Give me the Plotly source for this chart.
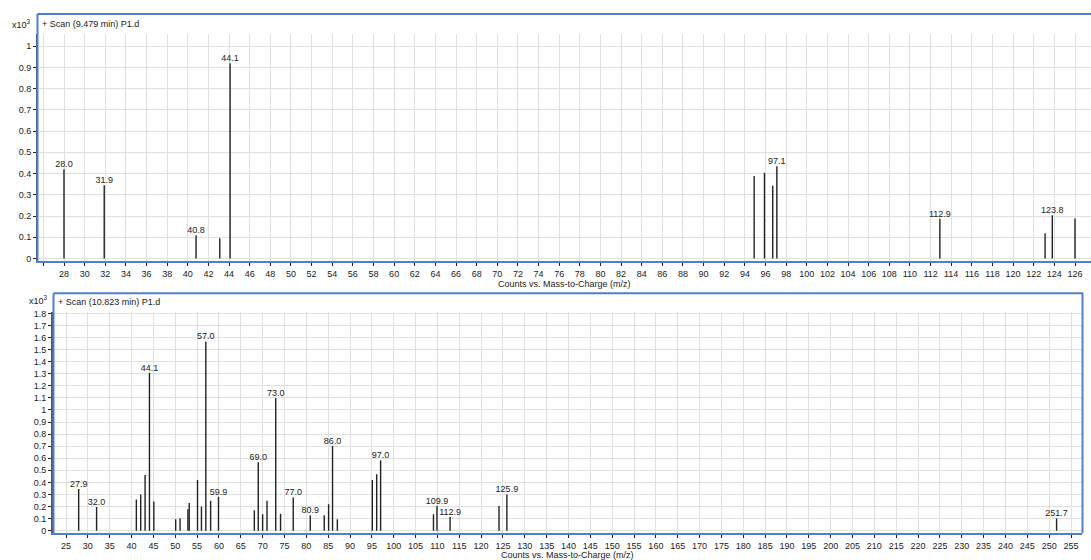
import plotly.graph_objects as go

# ---------------- data (counts in x10^3) ----------------
mz_top = [28.0, 31.9, 40.8, 43.1, 44.1, 94.9, 95.9, 96.7, 97.1, 112.9, 123.1, 123.8, 126.0]
int_top = [0.42, 0.345, 0.11, 0.095, 0.92, 0.389, 0.404, 0.343, 0.435, 0.187, 0.119, 0.204, 0.188]
lab_top_mz = [28.0, 31.9, 40.8, 44.1, 97.1, 112.9, 123.8]
lab_top_int = [0.42, 0.345, 0.11, 0.92, 0.435, 0.187, 0.204]

mz_bot = [27.9, 32.0, 41.1, 42.1, 43.1, 44.1, 45.1, 50.1, 51.1, 52.9, 53.2, 55.1, 56.0, 57.0,
          58.1, 59.9, 68.1, 69.0, 70.0, 71.0, 73.0, 74.1, 77.0, 80.9, 84.1, 85.1, 86.0, 87.1,
          95.1, 96.1, 97.0, 109.1, 109.9, 112.9, 124.1, 125.9, 251.7]
int_bot = [0.346, 0.195, 0.258, 0.30, 0.46, 1.308, 0.242, 0.095, 0.103, 0.177, 0.23, 0.42, 0.20, 1.567,
           0.248, 0.28, 0.168, 0.567, 0.136, 0.248, 1.10, 0.14, 0.275, 0.128, 0.128, 0.218, 0.703, 0.095,
           0.42, 0.468, 0.583, 0.136, 0.205, 0.114, 0.204, 0.30, 0.10]
lab_bot_mz = [27.9, 32.0, 44.1, 57.0, 59.9, 69.0, 73.0, 77.0, 80.9, 86.0, 97.0, 109.9, 112.9, 125.9, 251.7]
lab_bot_int = [0.346, 0.195, 1.308, 1.567, 0.28, 0.567, 1.10, 0.275, 0.128, 0.703, 0.583, 0.205, 0.114, 0.30, 0.10]

top_ticks = list(range(28, 127, 2))
bot_ticks = list(range(25, 256, 5))
top_yticks = [round(i * 0.1, 1) for i in range(0, 11)]
bot_yticks = [round(i * 0.1, 1) for i in range(0, 19)]

W, H = 1091, 560
px = lambda v: v / W
py = lambda v: 1 - v / H

def stems(xs, ys):
    sx, sy = [], []
    for a, b in zip(xs, ys):
        sx += [a, a, None]
        sy += [0, b, None]
    return sx, sy

def ytext(v):
    s = ("%.1f" % v)
    if s.endswith(".0"):
        s = s[:-2]
    return s

FONT = "Liberation Sans, Arial, sans-serif"
BLUE = "#4f7fd0"
GRID = "#e0e0e0"
INK = "#222222"

fig = go.Figure()

tx, ty = stems(mz_top, int_top)
fig.add_trace(go.Scatter(x=tx, y=ty, mode="lines", line=dict(color=INK, width=1.4),
                         xaxis="x", yaxis="y", hoverinfo="skip", showlegend=False))
fig.add_trace(go.Scatter(x=lab_top_mz, y=lab_top_int, mode="text", text=["%.1f" % v for v in lab_top_mz],
                         textposition="top center", textfont=dict(family=FONT, size=9, color=INK),
                         xaxis="x", yaxis="y", hoverinfo="skip", showlegend=False))

bx, by = stems(mz_bot, int_bot)
fig.add_trace(go.Scatter(x=bx, y=by, mode="lines", line=dict(color=INK, width=1.4),
                         xaxis="x2", yaxis="y2", hoverinfo="skip", showlegend=False))
fig.add_trace(go.Scatter(x=lab_bot_mz, y=lab_bot_int, mode="text", text=["%.1f" % v for v in lab_bot_mz],
                         textposition="top center", textfont=dict(family=FONT, size=9, color=INK),
                         xaxis="x2", yaxis="y2", hoverinfo="skip", showlegend=False))

axfont = dict(family=FONT, size=9, color=INK)

# pixel calibration: 28 -> 64px, 126 -> 1075px (top); 25 -> 66px, 255 -> 1071px (bottom)
top_ppu = (1075 - 64) / 98.0
bot_ppu = (1071 - 66) / 230.0
top_yppu = 215.0
bot_yppu = 122.2

fig.update_layout(
    width=W, height=H, margin=dict(l=0, r=0, t=0, b=0),
    paper_bgcolor="white", plot_bgcolor="white",
    font=dict(family=FONT, size=9, color=INK),
    xaxis=dict(domain=[px(38), 1.0],
               range=[28 + (38 - 64) / top_ppu, 28 + (1091 - 64) / top_ppu],
               tickvals=top_ticks,
               minor=dict(tickvals=[26], ticks="outside", ticklen=3, tickcolor=INK,
                          showgrid=True, gridcolor=GRID, gridwidth=1),
               showgrid=True, gridcolor=GRID, gridwidth=1, zeroline=False,
               showline=True, linecolor=BLUE, linewidth=2, ticks="outside", ticklen=3,
               tickcolor=INK, tickfont=axfont, anchor="y"),
    yaxis=dict(domain=[py(260), py(30)],
               range=[(257.7 - 260) / top_yppu, (257.7 - 30) / top_yppu],
               tickvals=top_yticks, ticktext=[ytext(v) for v in top_yticks],
               showgrid=True, gridcolor=GRID, gridwidth=1, zeroline=False,
               showline=True, linecolor="#555555", linewidth=2, ticks="outside", ticklen=3,
               tickcolor=INK, tickfont=axfont, anchor="x"),
    xaxis2=dict(domain=[px(53), px(1082)],
                range=[25 + (53 - 66) / bot_ppu, 25 + (1082 - 66) / bot_ppu],
                tickvals=bot_ticks,
                showgrid=True, gridcolor=GRID, gridwidth=1, zeroline=False,
                showline=True, linecolor=BLUE, linewidth=2, ticks="outside", ticklen=3,
                tickcolor=INK, tickfont=axfont, anchor="y2"),
    yaxis2=dict(domain=[py(536), py(312)],
                range=[(533.3 - 536) / bot_yppu, (533.3 - 312) / bot_yppu],
                tickvals=bot_yticks, ticktext=[ytext(v) for v in bot_yticks],
                showgrid=True, gridcolor=GRID, gridwidth=1, zeroline=False,
                showline=True, linecolor="#555555", linewidth=2, ticks="outside", ticklen=3,
                tickcolor=INK, tickfont=axfont, anchor="x2"),
)

shapes = [
    # top frame
    dict(type="line", xref="paper", yref="paper", x0=px(37.5), x1=px(37.5), y0=py(260), y1=py(10),
         line=dict(color=BLUE, width=2)),
    dict(type="line", xref="paper", yref="paper", x0=px(37.5), x1=1.0, y0=py(10), y1=py(10),
         line=dict(color=BLUE, width=2)),
    # bottom frame
    dict(type="line", xref="paper", yref="paper", x0=px(53.5), x1=px(53.5), y0=py(536), y1=py(293),
         line=dict(color=BLUE, width=2)),
    dict(type="line", xref="paper", yref="paper", x0=px(53.5), x1=px(1083), y0=py(293), y1=py(293),
         line=dict(color=BLUE, width=2)),
    dict(type="line", xref="paper", yref="paper", x0=px(1082.5), x1=px(1082.5), y0=py(536), y1=py(293),
         line=dict(color=BLUE, width=2)),
]
fig.update_layout(shapes=shapes)

ann = [
    dict(text="x10<sup>3</sup>", x=px(10), y=py(20), xanchor="left", yanchor="middle"),
    dict(text="+ Scan (9.479 min) P1.d", x=px(40), y=py(20), xanchor="left", yanchor="middle"),
    dict(text="Counts vs. Mass-to-Charge (m/z)", x=px(564), y=py(276.5), xanchor="center", yanchor="top"),
    dict(text="x10<sup>3</sup>", x=px(27), y=py(300), xanchor="left", yanchor="middle"),
    dict(text="+ Scan (10.823 min) P1.d", x=px(56), y=py(302), xanchor="left", yanchor="middle"),
    dict(text="Counts vs. Mass-to-Charge (m/z)", x=px(567), y=py(551), xanchor="center", yanchor="top"),
]
for a in ann:
    a.update(xref="paper", yref="paper", showarrow=False)
    a.setdefault("font", dict(family=FONT, size=9, color=INK))
fig.update_layout(annotations=ann)

fig.write_html("out.html", config={"displayModeBar": False},
               post_script="document.body.style.margin='0px';document.body.style.overflow='hidden';")
